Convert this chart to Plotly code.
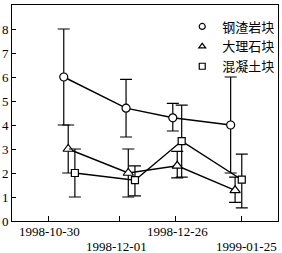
import plotly.graph_objects as go

# ---- data ----
series_names = ["钢渣岩块", "大理石块", "混凝土块"]

circle_dates = ["1998-11-06", "1998-12-04", "1998-12-25", "1999-01-20"]
circle_vals = [6.0, 4.7, 4.3, 4.0]
circle_err_plus = [2.0, 1.2, 0.6, 2.0]
circle_err_minus = [2.0, 1.2, 0.55, 2.0]

tri_dates = ["1998-11-08", "1998-12-05", "1998-12-27", "1999-01-22"]
tri_vals = [3.0, 2.0, 2.3, 1.28]
tri_err_plus = [1.0, 1.0, 0.6, 0.55]
tri_err_minus = [1.0, 1.0, 0.5, 0.5]

sq_dates = ["1998-11-11", "1998-12-08", "1998-12-29", "1999-01-25"]
sq_vals = [2.0, 1.7, 3.33, 1.72]
sq_err_plus = [1.0, 0.6, 1.5, 1.07]
sq_err_minus = [1.0, 0.65, 1.5, 1.17]

tick_dates = ["1998-10-30", "1998-12-01", "1998-12-26", "1999-01-25"]
tick_labels = ["1998-10-30", "1998-12-01", "1998-12-26", "1999-01-25"]
y_ticks = [0, 1, 2, 3, 4, 5, 6, 7, 8, 9]

SERIF = "Liberation Serif, Times New Roman, serif"
CJK = "Noto Sans CJK SC"

fig = go.Figure()

specs = [
    (circle_dates, circle_vals, circle_err_plus, circle_err_minus, "circle", 8),
    (tri_dates, tri_vals, tri_err_plus, tri_err_minus, "triangle-up", 9),
    (sq_dates, sq_vals, sq_err_plus, sq_err_minus, "square", 7),
]

for name, (xd, yv, ep, em, sym, sz) in zip(series_names, specs):
    fig.add_trace(go.Scatter(
        x=xd, y=yv, mode="lines+markers", showlegend=False,
        line=dict(color="black", width=1.4),
        marker=dict(symbol=sym, size=sz, color="white",
                    line=dict(color="black", width=1.2)),
        error_y=dict(type="data", symmetric=False, array=ep, arrayminus=em,
                     color="black", thickness=1.2, width=6),
    ))

# legend entries (markers only)
for name, (xd, yv, ep, em, sym, sz) in zip(series_names, specs):
    fig.add_trace(go.Scatter(
        x=[None], y=[None], mode="markers", name=name,
        marker=dict(symbol=sym, size=6, color="white",
                    line=dict(color="black", width=1.2)),
    ))

# staggered x tick labels
rows = [0, 1, 0, 1]
shifts = [1, -3, 2, 5]
for d, lab, r, s in zip(tick_dates, tick_labels, rows, shifts):
    fig.add_annotation(
        x=d, y=0, xref="x", yref="paper", text=lab, showarrow=False,
        yanchor="top", yshift=-1 - 15 * r, xshift=s,
        font=dict(family=SERIF, size=13, color="black"),
    )

fig.update_xaxes(
    type="date",
    range=["1998-10-13 17:46", "1999-02-10 06:43"],
    tickvals=tick_dates, showticklabels=False,
    ticks="inside", ticklen=5, tickcolor="black", tickwidth=1,
    showline=True, linecolor="black", linewidth=1, mirror=True,
    showgrid=False, zeroline=False,
)
fig.update_yaxes(
    range=[0, 9], tickvals=y_ticks,
    ticks="inside", ticklen=4, tickcolor="black", tickwidth=1,
    showline=True, linecolor="black", linewidth=1, mirror=True,
    showgrid=False, zeroline=False,
    tickfont=dict(family=SERIF, size=13, color="black"),
)

fig.update_layout(
    width=282, height=253,
    margin=dict(l=12, r=2, t=5, b=32),
    paper_bgcolor="white", plot_bgcolor="white",
    showlegend=True,
    legend=dict(
        x=0.64, y=0.97, xanchor="left", yanchor="top",
        bgcolor="rgba(0,0,0,0)", borderwidth=0,
        font=dict(family=CJK, size=13, color="black"),
        tracegroupgap=0,
    ),
)

fig.write_html("out.html")
